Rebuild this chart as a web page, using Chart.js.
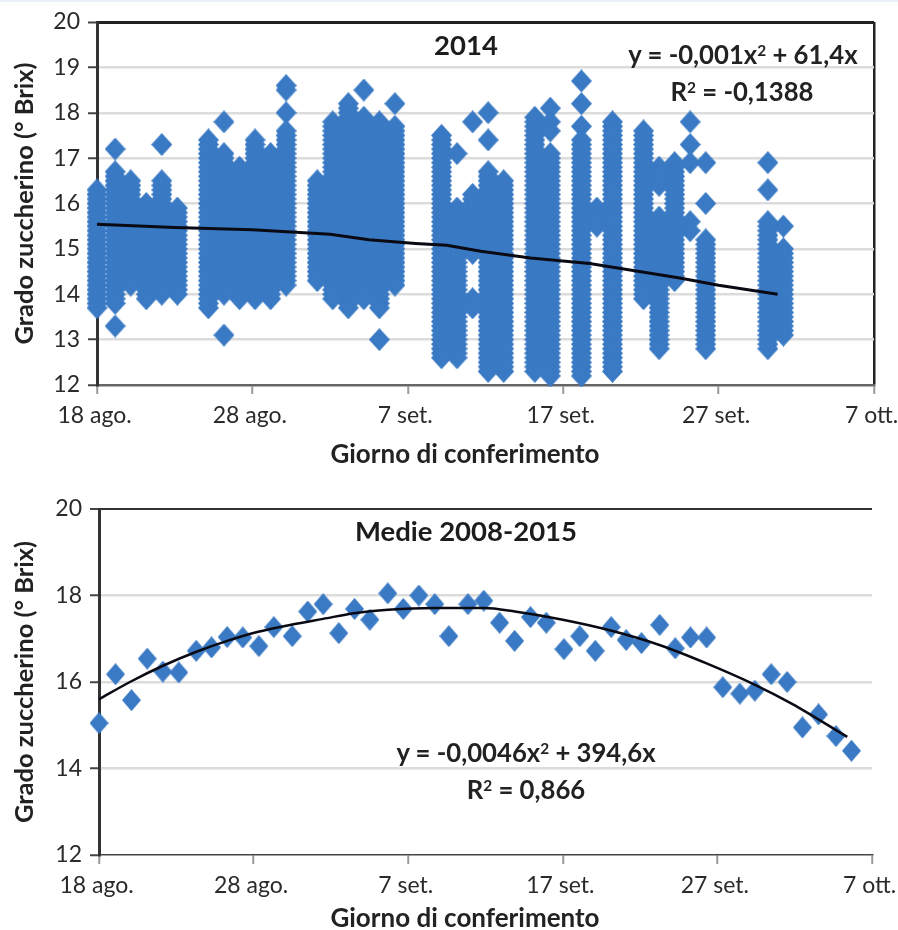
<!DOCTYPE html>
<html><head><meta charset="utf-8">
<script src="https://cdn.jsdelivr.net/npm/chart.js@4"></script>
<style>
html,body{margin:0;padding:0;background:#fff;width:898px;height:930px;overflow:hidden}
body{position:relative;font-family:Lato,sans-serif;color:#222}
#strip{position:absolute;left:0;top:0;width:898px;height:2px;background:#e9eff8}
canvas{position:absolute;left:0}
.t{position:absolute;white-space:nowrap;transform:translate(-50%,-50%);z-index:2;line-height:1}
.b{font-weight:700;font-size:27.5px;color:#1c1c1c}
.e{font-weight:700;font-size:25.7px;color:#222}
.a{font-weight:700;font-size:26px;color:#222}
sup{font-size:.6em;line-height:0;vertical-align:.55em}
</style></head><body>
<div id="strip"></div>
<div style="position:absolute;left:0;top:0;width:898px;height:480px"><canvas id="c1"></canvas></div>
<div style="position:absolute;left:0;top:480px;width:898px;height:450px"><canvas id="c2"></canvas></div>
<div class="t b" style="left:466px;top:45px">2014</div>
<div class="t e" style="left:743px;top:55px">y = -0,001x<sup>2</sup> + 61,4x</div>
<div class="t e" style="left:742px;top:92px">R<sup>2</sup> = -0,1388</div>
<div class="t a" style="left:465px;top:453px">Giorno di conferimento</div>
<div class="t b" style="left:466px;top:531px">Medie 2008-2015</div>
<div class="t e" style="left:526px;top:753px">y = -0,0046x<sup>2</sup> + 394,6x</div>
<div class="t e" style="left:526px;top:790px">R<sup>2</sup> = 0,866</div>
<div class="t a" style="left:465px;top:917px">Giorno di conferimento</div>
<script>
const tickLabels = ['18 ago.','28 ago.','7 set.','17 set.','27 set.','7 ott.'];
const yAxisTitle = 'Grado zuccherino (° Brix)';

// 2014: one list of Brix readings per delivery day
const d00=[16.3,16.2,16.1,16,15.9,15.8,15.7,15.6,15.5,15.4,15.3,15.2,15.1,15,14.9,14.8,14.7,14.6,14.5,14.4,14.3,14.2,14.1,14,13.9,13.8,13.7];
const d01=[17.2,16.7,16.6,16.5,16.4,16.3,16.2,16.1,16,15.9,15.8,15.7,15.6,15.5,15.4,15.3,15.2,15.1,15,14.9,14.8,14.7,14.6,14.5,14.4,14.3,14.2,14.1,14,13.9,13.8,13.3];
const d02=[16.5,16.4,16.3,16.2,16.1,16,15.9,15.8,15.7,15.6,15.5,15.4,15.3,15.2,15.1,15,14.9,14.8,14.7,14.6,14.5,14.4,14.3,14.2];
const d03=[16,15.9,15.8,15.7,15.6,15.5,15.4,15.3,15.2,15.1,15,14.9,14.8,14.7,14.6,14.5,14.4,14.3,14.2,14.1,14,13.9];
const d04=[17.3,16.5,16.4,16.3,16.2,16.1,16,15.9,15.8,15.7,15.6,15.5,15.4,15.3,15.2,15.1,15,14.9,14.8,14.7,14.6,14.5,14.4,14.3,14.2,14.1,14];
const d05=[15.9,15.8,15.7,15.6,15.5,15.4,15.3,15.2,15.1,15,14.9,14.8,14.7,14.6,14.5,14.4,14.3,14.2,14.1,14];
const d07=[17.4,17.3,17.2,17.1,17,16.9,16.8,16.7,16.6,16.5,16.4,16.3,16.2,16.1,16,15.9,15.8,15.7,15.6,15.5,15.4,15.3,15.2,15.1,15,14.9,14.8,14.7,14.6,14.5,14.4,14.3,14.2,14.1,14,13.9,13.8,13.7];
const d08=[17.8,17.1,17,16.9,16.8,16.7,16.6,16.5,16.4,16.3,16.2,16.1,16,15.9,15.8,15.7,15.6,15.5,15.4,15.3,15.2,15.1,15,14.9,14.8,14.7,14.6,14.5,14.4,14.3,14.2,14.1,14,13.1];
const d09=[16.8,16.7,16.6,16.5,16.4,16.3,16.2,16.1,16,15.9,15.8,15.7,15.6,15.5,15.4,15.3,15.2,15.1,15,14.9,14.8,14.7,14.6,14.5,14.4,14.3,14.2,14.1,14,13.9];
const d10=[17.4,17.3,17.2,17.1,17,16.9,16.8,16.7,16.6,16.5,16.4,16.3,16.2,16.1,16,15.9,15.8,15.7,15.6,15.5,15.4,15.3,15.2,15.1,15,14.9,14.8,14.7,14.6,14.5,14.4,14.3,14.2,14.1,14,13.9];
const d11=[17.1,17,16.9,16.8,16.7,16.6,16.5,16.4,16.3,16.2,16.1,16,15.9,15.8,15.7,15.6,15.5,15.4,15.3,15.2,15.1,15,14.9,14.8,14.7,14.6,14.5,14.4,14.3,14.2,14.1,14,13.9];
const d12=[18.6,18.5,18,17.6,17.5,17.4,17.3,17.2,17.1,17,16.9,16.8,16.7,16.6,16.5,16.4,16.3,16.2,16.1,16,15.9,15.8,15.7,15.6,15.5,15.4,15.3,15.2,15.1,15,14.9,14.8,14.7,14.6,14.5,14.4,14.3,14.2];
const d14=[16.5,16.4,16.3,16.2,16.1,16,15.9,15.8,15.7,15.6,15.5,15.4,15.3,15.2,15.1,15,14.9,14.8,14.7,14.6,14.5,14.4,14.3];
const d15=[17.8,17.7,17.6,17.5,17.4,17.3,17.2,17.1,17,16.9,16.8,16.7,16.6,16.5,16.4,16.3,16.2,16.1,16,15.9,15.8,15.7,15.6,15.5,15.4,15.3,15.2,15.1,15,14.9,14.8,14.7,14.6,14.5,14.4,14.3,14.2,14.1,14,13.9];
const d16=[18.2,18.1,18,17.9,17.8,17.7,17.6,17.5,17.4,17.3,17.2,17.1,17,16.9,16.8,16.7,16.6,16.5,16.4,16.3,16.2,16.1,16,15.9,15.8,15.7,15.6,15.5,15.4,15.3,15.2,15.1,15,14.9,14.8,14.7,14.6,14.5,14.4,14.3,14.2,14.1,14,13.9,13.8,13.7];
const d17=[18.5,17.9,17.8,17.7,17.6,17.5,17.4,17.3,17.2,17.1,17,16.9,16.8,16.7,16.6,16.5,16.4,16.3,16.2,16.1,16,15.9,15.8,15.7,15.6,15.5,15.4,15.3,15.2,15.1,15,14.9,14.8,14.7,14.6,14.5,14.4,14.3,14.2,14.1,14,13.9];
const d18=[17.8,17.7,17.6,17.5,17.4,17.3,17.2,17.1,17,16.9,16.8,16.7,16.6,16.5,16.4,16.3,16.2,16.1,16,15.9,15.8,15.7,15.6,15.5,15.4,15.3,15.2,15.1,15,14.9,14.8,14.7,14.6,14.5,14.4,14.3,14.2,14.1,14,13.9,13.8,13.7,13];
const d19=[18.2,17.7,17.6,17.5,17.4,17.3,17.2,17.1,17,16.9,16.8,16.7,16.6,16.5,16.4,16.3,16.2,16.1,16,15.9,15.8,15.7,15.6,15.5,15.4,15.3,15.2,15.1,15,14.9,14.8,14.7,14.6,14.5,14.4,14.3,14.2];
const d22=[17.5,17.4,17.3,17.2,17.1,17,16.9,16.8,16.7,16.6,16.5,16.4,16.3,16.2,16.1,16,15.9,15.8,15.7,15.6,15.5,15.4,15.3,15.2,15.1,15,14.9,14.8,14.7,14.6,14.5,14.4,14.3,14.2,14.1,14,13.9,13.8,13.7,13.6,13.5,13.4,13.3,13.2,13.1,13,12.9,12.8,12.7,12.6];
const d23=[17.1,15.9,15.8,15.7,15.6,15.5,15.4,15.3,15.2,15.1,15,14.9,14.8,14.7,14.6,14.5,14.4,14.3,14.2,14.1,14,13.9,13.8,13.7,13.6,13.5,13.4,13.3,13.2,13.1,13,12.9,12.8,12.7,12.6];
const d24=[17.8,16.2,16.1,16,15.9,15.8,15.7,15.6,15.5,15.4,15.3,15.2,15.1,15,14.9,13.9,13.7];
const d25=[18,17.4,16.7,16.6,16.5,16.4,16.3,16.2,16.1,16,15.9,15.8,15.7,15.6,15.5,15.4,15.3,15.2,15.1,15,14.9,14.8,14.7,14.6,14.5,14.4,14.3,14.2,14.1,14,13.9,13.8,13.7,13.6,13.5,13.4,13.3,13.2,13.1,13,12.9,12.8,12.7,12.6,12.5,12.4,12.3];
const d26=[16.5,16.4,16.3,16.2,16.1,16,15.9,15.8,15.7,15.6,15.5,15.4,15.3,15.2,15.1,15,14.9,14.8,14.7,14.6,14.5,14.4,14.3,14.2,14.1,14,13.9,13.8,13.7,13.6,13.5,13.4,13.3,13.2,13.1,13,12.9,12.8,12.7,12.6,12.5,12.4,12.3];
const d28=[17.9,17.8,17.7,17.6,17.5,17.4,17.3,17.2,17.1,17,16.9,16.8,16.7,16.6,16.5,16.4,16.3,16.2,16.1,16,15.9,15.8,15.7,15.6,15.5,15.4,15.3,15.2,15.1,15,14.9,14.8,14.7,14.6,14.5,14.4,14.3,14.2,14.1,14,13.9,13.8,13.7,13.6,13.5,13.4,13.3,13.2,13.1,13,12.9,12.8,12.7,12.6,12.5,12.4,12.3];
const d29=[18.1,17.8,17.6,17.1,17,16.9,16.8,16.7,16.6,16.5,16.4,16.3,16.2,16.1,16,15.9,15.8,15.7,15.6,15.5,15.4,15.3,15.2,15.1,15,14.9,14.8,14.7,14.6,14.5,14.4,14.3,14.2,14.1,14,13.9,13.8,13.7,13.6,13.5,13.4,13.3,13.2,13.1,13,12.9,12.8,12.7,12.6,12.5,12.4,12.3,12.2];
const d31=[18.7,18.2,17.7,17.4,17.3,17.2,17.1,17,16.9,16.8,16.7,16.6,16.5,16.4,16.3,16.2,16.1,16,15.9,15.8,15.7,15.6,15.5,15.4,15.3,15.2,15.1,15,14.9,14.8,14.7,14.6,14.5,14.4,14.3,14.2,14.1,14,13.9,13.8,13.7,13.6,13.5,13.4,13.3,13.2,13.1,13,12.9,12.8,12.7,12.6,12.5,12.4,12.3,12.2];
const d32=[15.9,15.8,15.7,15.6,15.5];
const d33=[17.8,17.7,17.6,17.5,17.4,17.3,17.2,17.1,17,16.9,16.8,16.7,16.6,16.5,16.4,16.3,16.2,16.1,16,15.9,15.8,15.7,15.6,15.5,15.4,15.3,15.2,15.1,15,14.9,14.8,14.7,14.6,14.5,14.4,14.3,14.2,14.1,14,13.9,13.8,13.7,13.6,13.5,13.4,13.3,13.2,13.1,13,12.9,12.8,12.7,12.6,12.5,12.4,12.3];
const d35=[17.6,17.5,17.4,17.3,17.2,17.1,17,16.9,16.8,16.7,16.6,16.5,16.4,16.3,16.2,16.1,16,15.9,15.8,15.7,15.6,15.5,15.4,15.3,15.2,15.1,15,14.9,14.8,14.7,14.6,14.5,14.4,14.3,14.2,14.1,14,13.9];
const d36=[16.8,16.6,16.4,15.7,15.6,15.5,15.4,15.3,15.2,15.1,15,14.9,14.8,14.7,14.6,14.5,14.4,14.3,14.2,14.1,14,13.9,13.8,13.7,13.6,13.5,13.4,13.3,13.2,13.1,13,12.9,12.8];
const d37=[16.9,16.8,16.7,16.6,16.5,16.4,16.3,16.2,16.1,16,15.9,15.8,15.7,15.6,15.5,15.4,15.3,15.2,15.1,15,14.9,14.8,14.7,14.6,14.5,14.4,14.3];
const d38=[17.8,17.3,16.9,15.6,15.4];
const d39=[16.9,16,15.2,15.1,15,14.9,14.8,14.7,14.6,14.5,14.4,14.3,14.2,14.1,14,13.9,13.8,13.7,13.6,13.5,13.4,13.3,13.2,13.1,13,12.9,12.8];
const d43=[16.9,16.3,15.6,15.5,15.4,15.3,15.2,15.1,15,14.9,14.8,14.7,14.6,14.5,14.4,14.3,14.2,14.1,14,13.9,13.8,13.7,13.6,13.5,13.4,13.3,13.2,13.1,13,12.9,12.8];
const d44=[15.5,15,14.9,14.8,14.7,14.6,14.5,14.4,14.3,14.2,14.1,14,13.9,13.8,13.7,13.6,13.5,13.4,13.3,13.2,13.1];
const dayPos2014=[0,1.17,2.17,3.17,4.17,5.17,7.17,8.17,9.17,10.17,11.17,12.17,14.17,15.17,16.17,17.17,18.17,19.17,22.17,23.17,24.17,25.17,26.17,28.17,29.17,31.17,32.17,33.17,35.17,36.17,37.17,38.17,39.17,43.17,44.17];
const readings2014=[d00,d01,d02,d03,d04,d05,d07,d08,d09,d10,d11,d12,d14,d15,d16,d17,d18,d19,d22,d23,d24,d25,d26,d28,d29,d31,d32,d33,d35,d36,d37,d38,d39,d43,d44];
const trend2014X=[0,5,10,15,17.5,20.5,22.5,24.7,27.9,31.7,37.5,40,43.8];
const trend2014Y=[15.54,15.47,15.42,15.32,15.2,15.12,15.08,14.95,14.8,14.68,14.36,14.2,14];

// 2008-2015 averages
const meanX=[0,1.07,2.1,3.12,4.13,5.16,6.29,7.28,8.29,9.3,10.34,11.31,12.5,13.5,14.5,15.51,16.53,17.52,18.68,19.68,20.69,21.72,22.63,23.86,24.89,25.91,26.88,27.91,28.93,30.07,31.1,32.1,33.13,34.1,35.09,36.27,37.27,38.26,39.3,40.35,41.45,42.42,43.48,44.51,45.5,46.54,47.67,48.67];
const meanY=[15.05,16.18,15.58,16.54,16.24,16.22,16.72,16.8,17.04,17.03,16.83,17.27,17.06,17.63,17.8,17.13,17.69,17.44,18.05,17.69,18,17.8,17.06,17.8,17.88,17.37,16.95,17.5,17.37,16.76,17.06,16.72,17.27,16.97,16.9,17.32,16.78,17.03,17.03,15.88,15.73,15.8,16.18,16,14.95,15.25,14.75,14.41];
const trendMeanX=[0,2,4.1,6.3,8.3,10.3,12.5,14.5,16.5,18.7,21.7,24.9,26.9,30,33.1,36.3,39.3,42.4,44.8,48.4];
const trendMeanY=[15.6,16,16.37,16.7,16.95,17.16,17.33,17.46,17.59,17.67,17.71,17.71,17.63,17.44,17.19,16.85,16.43,15.94,15.5,14.73];

const BLUE='#3a7ac4';
function makeDiamond(w,h){
  const c=document.createElement('canvas');c.width=w;c.height=h;
  const g=c.getContext('2d');g.fillStyle=BLUE;g.beginPath();
  g.moveTo(w/2,0);g.lineTo(w,h/2);g.lineTo(w/2,h);g.lineTo(0,h/2);g.closePath();g.fill();
  return c;
}
const diamondTop=makeDiamond(21,23), diamondBottom=makeDiamond(19,22);

const zip=(xs,ys)=>xs.map((x,i)=>({x,y:ys[i]}));
const tickFont={family:'Lato',size:23,weight:'400'};

function makeChart(id,h,pad,xH,yW,step,datasets,opts){
  const el=document.getElementById(id);
  el.width=898;el.height=h;el.style.width='898px';el.style.height=h+'px';
  return new Chart(el,{type:'scatter',data:{datasets},options:{
    responsive:false,animation:false,
    layout:{padding:pad},
    plugins:{legend:{display:false},title:{display:false},tooltip:{enabled:false}},
    scales:{
      x:{type:'linear',min:0,max:50,
        afterFit(s){s.height=xH;s.paddingLeft=0;s.paddingRight=0;},
        border:{color:opts.xBorder,width:opts.xBorderW},
        grid:{drawOnChartArea:opts.rightBorder,drawTicks:true,tickLength:9,tickWidth:2,tickColor:'#999',
          color:c=>c.tick&&c.tick.value===50?'#222':'rgba(0,0,0,0)',lineWidth:2.5},
        ticks:{stepSize:10,maxRotation:0,autoSkip:false,padding:8,labelOffset:-2.5,color:'#2a2a2a',font:tickFont,
          callback:v=>tickLabels[v/10]}},
      y:{type:'linear',min:12,max:20,
        afterFit(s){s.width=yW;},
        border:{color:'#333',width:opts.yBorderW},
        title:{display:true,text:yAxisTitle,color:'#222',font:{family:'Lato',size:25.5,weight:'700'},padding:{top:9,bottom:0}},
        grid:{drawTicks:true,tickLength:9,tickWidth:2,tickColor:'#444',
          color:c=>c.tick&&c.tick.value===20?opts.topColor:c.tick&&c.tick.value===12?'rgba(0,0,0,0)':'#dcdcdc',
          lineWidth:c=>c.tick&&c.tick.value===20?opts.topW:2.5},
        ticks:{stepSize:step,padding:8,color:'#2a2a2a',font:tickFont}}
    }}});
}

const ds1=[{label:'Trend 2014',data:zip(trend2014X,trend2014Y),showLine:true,borderColor:'#0a0a14',borderWidth:3,pointRadius:0,tension:0,clip:false}];
readings2014.forEach((vals,i)=>ds1.push({label:'Day '+i,data:vals.map(v=>({x:dayPos2014[i],y:v})),pointStyle:diamondTop,pointRadius:10,showLine:false,backgroundColor:BLUE,borderWidth:0,clip:false}));
makeChart('c1',480,{left:0,right:24,top:22,bottom:0},95,97,1,ds1,{xBorder:'#666',xBorderW:2.5,rightBorder:true,yBorderW:3,topColor:'#222',topW:3});

const ds2=[{label:'Trend medie',data:zip(trendMeanX,trendMeanY),showLine:true,borderColor:'#0a0a14',borderWidth:2.5,pointRadius:0,cubicInterpolationMode:'monotone',clip:false},
 {label:'Medie 2008-2015',data:zip(meanX,meanY),pointStyle:diamondBottom,pointRadius:10,showLine:false,backgroundColor:BLUE,borderWidth:0,clip:false}];
makeChart('c2',450,{left:0,right:26,top:29,bottom:0},75,99,2,ds2,{xBorder:'#444',xBorderW:1.5,rightBorder:false,yBorderW:3,topColor:'#333',topW:2});
</script></body></html>
